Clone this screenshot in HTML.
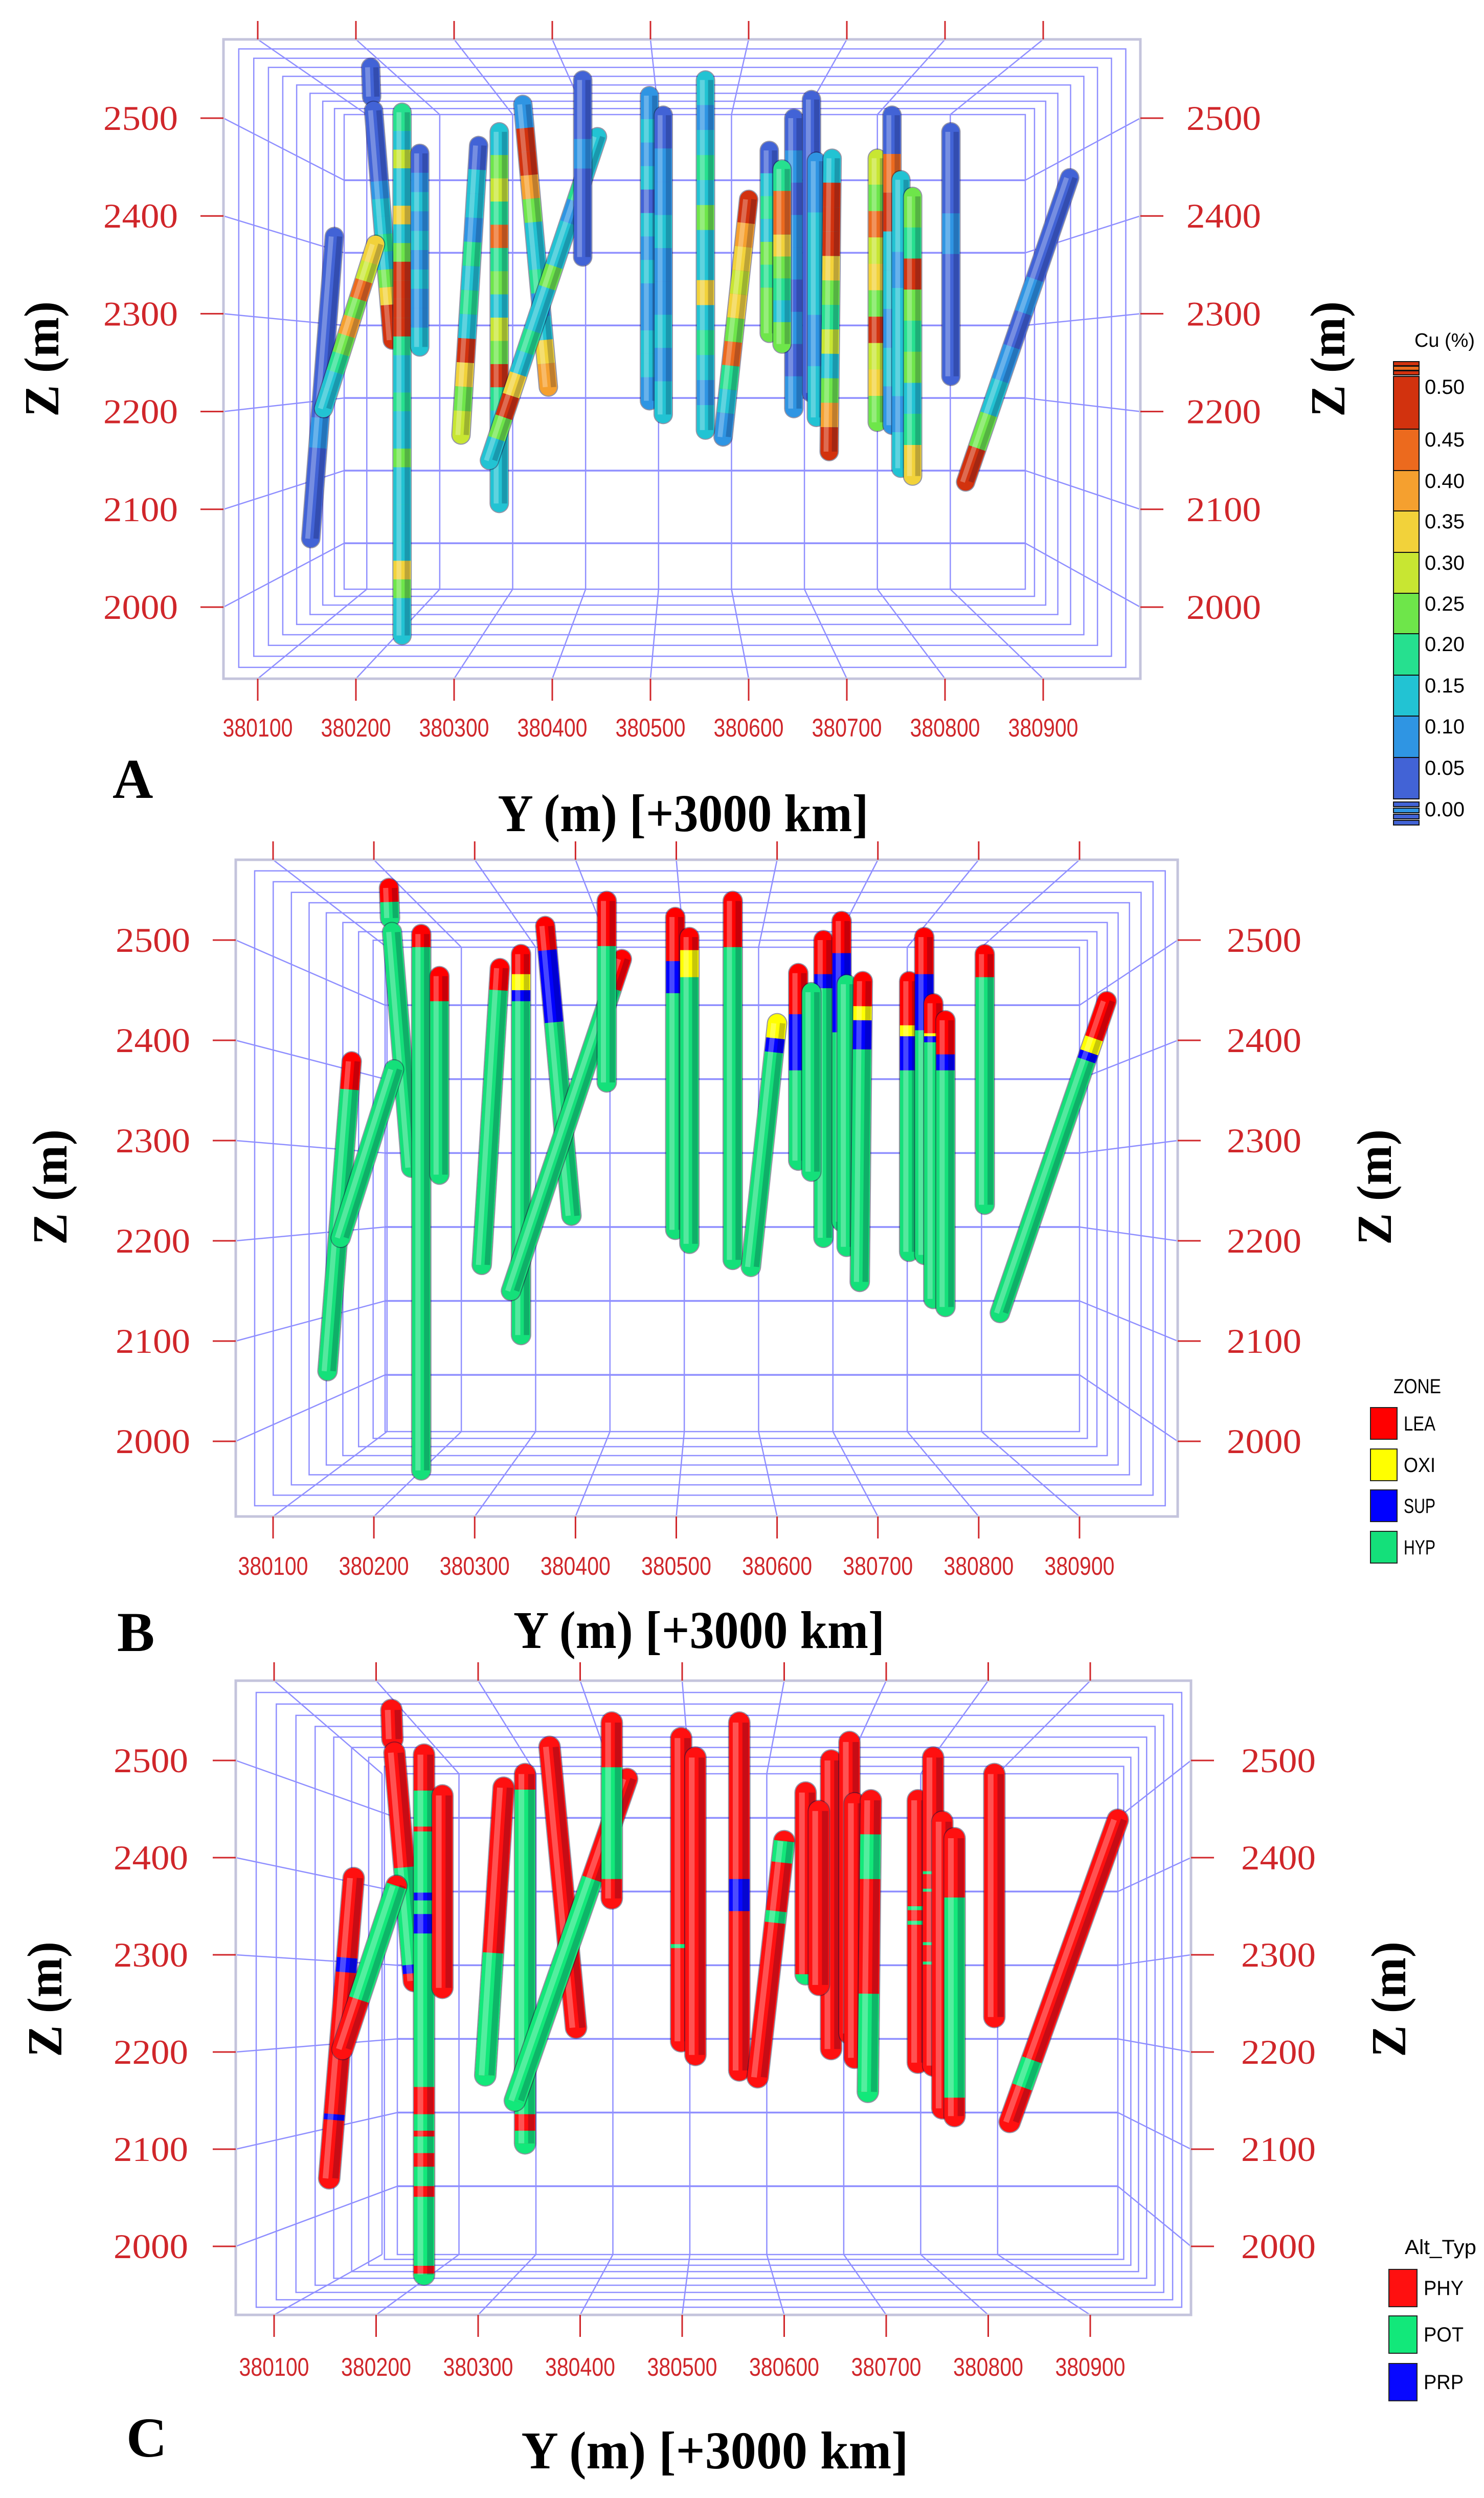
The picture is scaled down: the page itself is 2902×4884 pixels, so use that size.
<!DOCTYPE html>
<html><head><meta charset="utf-8">
<style>
html,body{margin:0;padding:0;background:#fff;}
svg{display:block;}
</style></head>
<body>
<svg id="fig" xmlns="http://www.w3.org/2000/svg" width="2902" height="4884" viewBox="0 0 2902 4884"></svg>
<script>
// ---------- data ----------
const yTicks = [380100,380200,380300,380400,380500,380600,380700,380800,380900];
const yTickLabels = ['380100','380200','380300','380400','380500','380600','380700','380800','380900'];
const zTicks = [2500,2400,2300,2200,2100,2000];
const zTickLabels = ['2500','2400','2300','2200','2100','2000'];

// drillhole traces (Y in m, Z in m) top -> bottom
const holeY0 = [380215,380218,380247,380265,380178,380220,380325,380346,380370,380446,380431,380499,380513,380556,380600,380621,380646,380634,380664,380669,380685,380731,380746,380755,380767,380806,380927];
const holeZ0 = [2552,2508,2506,2464,2379,2371,2472,2486,2514,2481,2539,2523,2503,2539,2417,2467,2500,2448,2519,2456,2459,2459,2503,2437,2420,2486,2439];
const holeY1 = [380216,380237,380247,380265,380154,380167,380307,380346,380396,380336,380431,380499,380513,380556,380574,380621,380646,380634,380664,380669,380682,380731,380746,380755,380767,380806,380821];
const holeZ1 = [2522,2273,1971,2266,2070,2203,2176,2106,2225,2150,2358,2211,2197,2181,2174,2280,2203,2269,2219,2194,2159,2189,2186,2142,2134,2236,2128];

// Panel A: Cu (%) samples along each hole
const cuValues = [
 [0.02,0.03,0.02,0.03],
 [0.02,0.03,0.02,0.04,0.07,0.1,0.13,0.17,0.12,0.22,0.3,0.45,0.48],
 [0.18,0.12,0.25,0.1,0.14,0.3,0.12,0.2,0.45,0.48,0.47,0.48,0.15,0.12,0.1,0.18,0.12,0.1,0.22,0.12,0.1,0.14,0.1,0.12,0.3,0.2,0.12,0.1],
 [0.03,0.08,0.1,0.06,0.12,0.08,0.1,0.05,0.07,0.12],
 [0.02,0.03,0.02,0.04,0.03,0.02,0.05,0.03,0.02,0.03],
 [0.3,0.25,0.4,0.2,0.35,0.22,0.15,0.1,0.12],
 [0.03,0.1,0.12,0.08,0.15,0.1,0.18,0.12,0.45,0.3,0.22,0.25],
 [0.12,0.2,0.25,0.15,0.4,0.18,0.22,0.12,0.28,0.2,0.45,0.15,0.12,0.1,0.14,0.1],
 [0.05,0.48,0.47,0.35,0.2,0.12,0.1,0.15,0.08,0.1,0.3,0.35],
 [0.12,0.1,0.15,0.08,0.12,0.1,0.2,0.12,0.1,0.15,0.12,0.3,0.45,0.2,0.1],
 [0.02,0.03,0.05,0.02,0.04,0.03],
 [0.05,0.1,0.08,0.12,0.04,0.1,0.07,0.12,0.08,0.05,0.1,0.12,0.08],
 [0.04,0.08,0.06,0.1,0.05,0.08,0.12,0.06,0.1],
 [0.1,0.08,0.12,0.15,0.1,0.2,0.12,0.1,0.3,0.12,0.15,0.1,0.08,0.12],
 [0.48,0.35,0.3,0.25,0.32,0.2,0.4,0.15,0.1,0.08],
 [0.04,0.1,0.15,0.12,0.2,0.18,0.22,0.2],
 [0.03,0.05,0.04,0.08,0.05,0.03,0.06,0.04,0.05],
 [0.18,0.42,0.44,0.3,0.2,0.15,0.12,0.2],
 [0.02,0.03,0.02,0.04,0.02,0.03,0.02],
 [0.08,0.1,0.12,0.08,0.1],
 [0.12,0.48,0.48,0.47,0.3,0.2,0.15,0.25,0.12,0.2,0.35,0.45],
 [0.28,0.22,0.4,0.25,0.3,0.2,0.45,0.25,0.3,0.22],
 [0.03,0.4,0.47,0.1,0.12,0.08,0.1,0.05],
 [0.1,0.12,0.08,0.14,0.1,0.12,0.08,0.1],
 [0.2,0.15,0.45,0.2,0.15,0.22,0.12,0.18,0.3],
 [0.02,0.03,0.05,0.02,0.04,0.02],
 [0.02,0.03,0.02,0.05,0.04,0.08,0.1,0.2,0.45]
];
const cuLegendLabels = ['0.50','0.45','0.40','0.35','0.30','0.25','0.20','0.15','0.10','0.05','0.00'];

// Panel B: zone bottoms (Z, m); rest of hole is HYP
const zoneLEA = [2538,2508,2493,2439,2351,2371,2450,2466,2490,2452,2494,2479,2490,2493,2417,2426,2466,2448,2487,2456,2434,2415,2466,2407,2386,2463,2402];
const zoneOXI = [2538,2508,2493,2439,2351,2371,2450,2450,2490,2452,2494,2479,2463,2493,2402,2426,2466,2448,2487,2456,2420,2404,2466,2404,2386,2463,2388];
const zoneSUP = [2538,2508,2493,2439,2351,2371,2450,2439,2418,2452,2494,2447,2463,2493,2388,2370,2452,2448,2408,2456,2391,2370,2410,2398,2370,2463,2380];
const zoneNames = ['LEA','OXI','SUP','HYP'];

// Panel C: alteration intervals (Z top, Z bottom); rest is PHY
const altPOT = [
 [],[[2390,2288]],[[2469,2432],[2427,2164],[2136,2119],[2113,2096],[2082,2062],[2051,1980],[1972,1958]],[],[],
 [[2371,2254]],[[2302,2176]],[[2470,2136],[2119,2106]],[],[[2378,2150]],[[2493,2378]],[[2311,2307]],[],[],
 [[2417,2395],[2345,2333]],[[2236,2233]],[],[],[],[],[[2424,2378],[2260,2159]],[[2350,2346],[2335,2331]],
 [[2386,2383],[2368,2365],[2313,2310],[2293,2290]],[],[[2359,2153]],[],[[2192,2164]]
];
const altPRP = [
 [],[[2290,2281]],[[2364,2356],[2342,2322]],[],[[2297,2282],[2136,2130]],[],[],[],[],[],[],[],[],
 [[2378,2345]],[],[],[],[],[],[],[],[],[],[],[],[],[]
];
const altNames = ['PHY','POT','PRP'];

// ---------- drawing ----------
const NS='http://www.w3.org/2000/svg';
const svg=document.getElementById('fig');
function mk(tag,attrs,parent){const e=document.createElementNS(NS,tag);for(const k in attrs)e.setAttribute(k,attrs[k]);(parent||svg).appendChild(e);return e;}
const cuColors=['#4263d6','#2f95e3','#22c3d3','#26e08f','#6ee64a','#c8e632','#f2d23a','#f5a02f','#ec6a1e','#d2320e'];
function cuColor(v){return cuColors[Math.max(0,Math.min(9,Math.floor(v/0.05+1e-6)))];}
const zoneColors={LEA:'#ff0000',OXI:'#ffff00',SUP:'#0000ff',HYP:'#14e07a'};
const altColors={PHY:'#ff1010',POT:'#12e87a',PRP:'#0808ff'};
const RED='#d0262a', GRID='#8f8fff';

const panels=[
 {id:'a',L:437,T:77,R:2230,B:1327,x0:504,x1:2040,z0:231,z1:1187,iL:673,iT:224,iR:2005,iB:1152,w:34,
  xlabY:1440,lRight:348,rLeft:2320,zl:[82,702],zr:[2597,702],title:[1336,1625,725],letter:['A',220,1560]},
 {id:'b',L:461,T:1681,R:2303,B:2965,x0:534,x1:2111,z0:1838,z1:2818,iL:753,iT:1852,iR:2111,iB:2799,w:36,
  xlabY:3079,lRight:372,rLeft:2399,zl:[98,2321],zr:[2688,2321],title:[1367,3222,726],letter:['B',229,3228]},
 {id:'c',L:461,T:3286,R:2329,B:4526,x0:536,x1:2132,z0:3442,z1:4392,iL:777,iT:3468,iR:2186,iB:4408,w:40,
  xlabY:4645,lRight:368,rLeft:2427,zl:[88,3909],zr:[2716,3909],title:[1398,4826,757],letter:['C',247,4803]}
];

function txt(s,x,y,size,opts,parent){
  const t=mk('text',Object.assign({x:x,y:y,'font-size':size,'font-family':'"Liberation Serif",serif'},opts||{}),parent);
  t.textContent=s;return t;
}

panels.forEach((p,pi)=>{
  const g=mk('g',{});
  
  
  const X=y=>p.x0+(y-380100)*(p.x1-p.x0)/800;
  const Zp=z=>p.z0+(2500-z)*(p.z1-p.z0)/500;
  const cx=(p.L+p.R)/2, cy=(p.T+p.B)/2;
  const rx=(p.iR-p.iL)/(p.R-p.L), ry=(p.iB-p.iT)/(p.B-p.T);
  const grid=mk('g',{stroke:GRID,'stroke-width':2.5,fill:'none'},g);
  
  
  const N=9;
  for(let k=1;k<N;k++){
    const t=1-Math.pow(1-k/N,1.15);
    const l=p.L+(p.iL-p.L)*t, r=p.R+(p.iR-p.R)*t, tp=p.T+(p.iT-p.T)*t, b=p.B+(p.iB-p.B)*t;
    mk('rect',{x:l,y:tp,width:r-l,height:b-tp},grid);
  }
  mk('rect',{x:p.iL,y:p.iT,width:p.iR-p.iL,height:p.iB-p.iT},grid);
  yTicks.forEach(v=>{
    const tx=X(v), ix=cx+(tx-cx)*rx;
    mk('line',{x1:ix,y1:p.iT,x2:ix,y2:p.iB},grid);
    mk('line',{x1:tx,y1:p.T,x2:ix,y2:p.iT},grid);
    mk('line',{x1:tx,y1:p.B,x2:ix,y2:p.iB},grid);
  });
  zTicks.forEach(v=>{
    const ty=Zp(v), iy=cy+(ty-cy)*ry;
    mk('line',{x1:p.iL,y1:iy,x2:p.iR,y2:iy,'stroke-width':3.5},grid);
    mk('line',{x1:p.L,y1:ty,x2:p.iL,y2:iy},grid);
    mk('line',{x1:p.R,y1:ty,x2:p.iR,y2:iy},grid);
  });
  const fr=mk('rect',{x:p.L,y:p.T,width:p.R-p.L,height:p.B-p.T,fill:'none',stroke:'#c4c4dc','stroke-width':5},g);
  
  
  const ax=mk('g',{},g);
  
  
  yTicks.forEach((v,i)=>{
    const tx=X(v);
    mk('line',{x1:tx,y1:p.T-36,x2:tx,y2:p.T,stroke:RED,'stroke-width':3},ax);
    mk('line',{x1:tx,y1:p.B,x2:tx,y2:p.B+43,stroke:RED,'stroke-width':3},ax);
    const t=txt(yTickLabels[i],tx,p.xlabY,50,{fill:RED,'text-anchor':'middle','font-family':'"Liberation Sans",sans-serif',textLength:137,lengthAdjust:'spacingAndGlyphs'},ax);
    
    
  });
  zTicks.forEach((v,i)=>{
    const ty=Zp(v);
    mk('line',{x1:p.L-45,y1:ty,x2:p.L,y2:ty,stroke:RED,'stroke-width':3},ax);
    mk('line',{x1:p.R,y1:ty,x2:p.R+45,y2:ty,stroke:RED,'stroke-width':3},ax);
    const a=txt(zTickLabels[i],p.lRight,ty+23,68,{fill:RED,'text-anchor':'end',textLength:146,lengthAdjust:'spacingAndGlyphs'},ax);
    
    
    const b=txt(zTickLabels[i],p.rLeft,ty+23,68,{fill:RED,textLength:146,lengthAdjust:'spacingAndGlyphs'},ax);
    
    
  });
  const zl=txt('Z (m)',0,0,96,{'font-weight':'bold','text-anchor':'middle',transform:`translate(${p.zl[0]+32},${p.zl[1]}) rotate(-90)`,textLength:226,lengthAdjust:'spacingAndGlyphs'},g);
  
  
  const zr=txt('Z (m)',0,0,96,{'font-weight':'bold','text-anchor':'middle',transform:`translate(${p.zr[0]+32},${p.zr[1]}) rotate(-90)`,textLength:226,lengthAdjust:'spacingAndGlyphs'},g);
  
  
  const tt=txt('Y (m) [+3000 km]',p.title[0],p.title[1],104,{'font-weight':'bold','text-anchor':'middle',textLength:p.title[2],lengthAdjust:'spacingAndGlyphs'},g);
  
  
  const lt=txt(p.letter[0],p.letter[1],p.letter[2],110,{'font-weight':'bold'},g);
  
  

  const hg=mk('g',{},g);
  
  
  holeY0.forEach((_,h)=>{
    const ax0=X(holeY0[h]), ay0=Zp(holeZ0[h]), ax1=X(holeY1[h]), ay1=Zp(holeZ1[h]);
    const pt=t=>[ax0+(ax1-ax0)*t, ay0+(ay1-ay0)*t];
    const tz=z=>Math.max(0,Math.min(1,(holeZ0[h]-z)/(holeZ0[h]-holeZ1[h])));
    let segs=[];
    if(pi===0){
      const vals=cuValues[h];
      vals.forEach((v,i)=>segs.push([i/vals.length,(i+1)/vals.length,cuColor(v)]));
    } else if(pi===1){
      const a=tz(zoneLEA[h]), b=tz(zoneOXI[h]), c=tz(zoneSUP[h]);
      segs.push([0,a,zoneColors.LEA],[a,b,zoneColors.OXI],[b,c,zoneColors.SUP],[c,1,zoneColors.HYP]);
    } else {
      segs.push([0,1,altColors.PHY]);
      altPOT[h].forEach(iv=>segs.push([tz(iv[0]),tz(iv[1]),altColors.POT]));
      altPRP[h].forEach(iv=>segs.push([tz(iv[0]),tz(iv[1]),altColors.PRP]));
    }
    const hole=mk('g',{},hg);
    
    
    const p0=pt(0),p1=pt(1);
    mk('line',{x1:p0[0],y1:p0[1],x2:p1[0],y2:p1[1],stroke:'rgba(20,20,60,0.45)','stroke-width':p.w+4,'stroke-linecap':'round'},hole);
    const first=segs.find(s=>s[1]>s[0])||segs[0];
    let lastC=segs[0][2];
    if(pi!==2){for(const s of segs){if(s[1]>s[0])lastC=s[2];}} else {lastC=altColors.PHY;let best=-1;segs.forEach(s=>{if(s[1]>=0.999&&s[0]>best){best=s[0];lastC=s[2];}});}
    mk('line',{x1:p0[0],y1:p0[1],x2:p1[0],y2:p1[1],stroke:first[2],'stroke-width':p.w,'stroke-linecap':'round'},hole);
    mk('circle',{cx:p1[0],cy:p1[1],r:p.w/2,fill:lastC},hole);
    segs.forEach(s=>{
      if(s[1]<=s[0])return;
      const a=pt(s[0]),b=pt(s[1]);
      const seg=mk('line',{x1:a[0],y1:a[1],x2:b[0],y2:b[1],stroke:s[2],'stroke-width':p.w},hole);
      
      
    });
    mk('line',{x1:p0[0]-p.w*0.18,y1:p0[1],x2:p1[0]-p.w*0.18,y2:p1[1],stroke:'rgba(255,255,255,0.28)','stroke-width':p.w*0.28},hole);
    mk('line',{x1:p0[0]+p.w*0.3,y1:p0[1],x2:p1[0]+p.w*0.3,y2:p1[1],stroke:'rgba(0,0,40,0.22)','stroke-width':p.w*0.3},hole);
  });
});

(function(){
  const g=mk('g',{});
  
  
  const bounds=[736,839,920,999,1080,1160,1239,1320,1400,1481,1562];
  for(let i=0;i<10;i++){
    mk('rect',{x:2725,y:bounds[i],width:50,height:bounds[i+1]-bounds[i],fill:cuColors[9-i],stroke:'#111','stroke-width':2},g);
  }
  [[707,cuColors[9]],[716,cuColors[8]],[725,cuColors[9]]].forEach(s=>mk('rect',{x:2725,y:s[0],width:50,height:8,fill:s[1],stroke:'#111','stroke-width':2},g));
  [[1568,cuColors[0]],[1580,cuColors[1]],[1592,cuColors[0]],[1604,cuColors[0]]].forEach(s=>mk('rect',{x:2725,y:s[0],width:50,height:9,fill:s[1],stroke:'#111','stroke-width':2},g));
  cuLegendLabels.forEach((l,i)=>{
    const t=txt(l,2786,bounds[i]+34,40,{'font-family':'"Liberation Sans",sans-serif',textLength:78,lengthAdjust:'spacingAndGlyphs'},g);
    
    
  });
  const h=txt('Cu (%)',2766,678,38,{'font-family':'"Liberation Sans",sans-serif',textLength:118,lengthAdjust:'spacingAndGlyphs'},g);
  
  
})();
(function(){
  const g=mk('g',{});
  
  
  const t=txt('ZONE',2725,2724,40,{'font-family':'"Liberation Sans",sans-serif',textLength:93,lengthAdjust:'spacingAndGlyphs'},g);
  
  
  const ys=[2752,2833,2913,2994];
  zoneNames.forEach((n,i)=>{
    const e=mk('g',{},g);
    
    
    mk('rect',{x:2680,y:ys[i],width:52,height:62,fill:zoneColors[n],stroke:'#222','stroke-width':2},e);
    txt(n,2745,ys[i]+45,40,{'font-family':'"Liberation Sans",sans-serif',textLength:62,lengthAdjust:'spacingAndGlyphs'},e);
  });
})();
(function(){
  const g=mk('g',{});
  
  
  const t=txt('Alt_Typ',2747,4407,40,{'font-family':'"Liberation Sans",sans-serif',textLength:140,lengthAdjust:'spacingAndGlyphs'},g);
  
  
  const ys=[4437,4528,4621];
  altNames.forEach((n,i)=>{
    const e=mk('g',{},g);
    
    
    mk('rect',{x:2716,y:ys[i],width:55,height:73,fill:altColors[n],stroke:'#222','stroke-width':2},e);
    txt(n,2784,ys[i]+50,40,{'font-family':'"Liberation Sans",sans-serif',textLength:78,lengthAdjust:'spacingAndGlyphs'},e);
  });
})();
</script>
</body></html>
